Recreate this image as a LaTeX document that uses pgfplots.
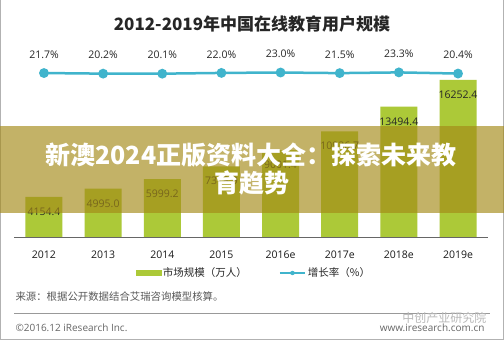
\documentclass[border=0pt]{standalone}
\usepackage{pgfplots}
\pgfplotsset{compat=1.18}
\usepackage{fontspec}
\setmainfont{Open Sans}
\newfontfamily\cjk{Noto Sans CJK SC}
\definecolor{barcol}{RGB}{172,201,56}
\definecolor{linecol}{RGB}{64,180,204}
\definecolor{bandcol}{RGB}{164,137,23}
\definecolor{lbl}{RGB}{38,38,38}
\begin{document}
\begin{tikzpicture}[x=1pt,y=1pt]
\useasboundingbox (0,0) rectangle (504,340);
\fill[white] (0,0) rectangle (504,340);
\draw[gray!60, line width=1pt] (0.5,340) -- (0.5,0.5) -- (503.5,0.5) -- (503.5,340);
\node[font=\cjk\bfseries\fontsize{17}{20}\selectfont, text=black!85] at (252,316) {2012-2019年中国在线教育用户规模};

\begin{axis}[
  at={(14.4pt,103pt)}, anchor=south west, scale only axis,
  width=473.2pt, height=192pt,
  xmin=-0.5, xmax=7.5, ymin=0, ymax=19872,
  axis x line*=bottom, axis y line=none,
  x axis line style={-, gray!80!black, line width=0.8pt},
  xtick={0,1,2,3,4,5,6,7},
  xticklabels={2012,2013,2014,2015,2016e,2017e,2018e,2019e},
  x tick style={draw=none},
  xticklabel style={font=\fontsize{10.5}{12}\selectfont, text=black!90, yshift=-6pt},
  ybar, bar width=37pt, clip=false,
  /pgf/number format/assume math mode=true,
  /pgf/number format/1000 sep={},
  /pgf/number format/fixed, /pgf/number format/fixed zerofill,
  /pgf/number format/precision=1,
  nodes near coords,
  every node near coord/.append style={anchor=north, yshift=-7.4pt, font=\fontsize{10.5}{12}\selectfont, text=lbl},
]
\addplot[fill=barcol, draw=none] coordinates {
 (0,4154.4) (1,4995.0) (2,5999.2) (3,7318.9) (4,9001.4) (5,10936.7) (6,13494.4) (7,16252.4)};
\end{axis}

\begin{axis}[
  at={(14.4pt,103pt)}, anchor=south west, scale only axis,
  width=473.2pt, height=192pt,
  xmin=-0.5, xmax=7.5, ymin=-388.2, ymax=91.8,
  hide axis, clip=false,
  /pgf/number format/assume math mode=true,
  /pgf/number format/fixed, /pgf/number format/fixed zerofill,
  /pgf/number format/precision=1,
  nodes near coords={\pgfmathprintnumber{\pgfplotspointmeta}\%},
  every node near coord/.append style={anchor=south, yshift=10pt, font=\fontsize{10.5}{12}\selectfont, text=lbl},
  legend style={at={(0.506,-0.1875)}, anchor=center, draw=none, fill=none,
    legend columns=2, font=\cjk\fontsize{10.5}{12}\selectfont, text=black!85,
    /tikz/every even column/.append style={column sep=30pt}},
]
\addlegendimage{legend image code/.code={\fill[barcol] (0pt,-2.5pt) rectangle (25pt,2.5pt);}}
\addlegendentry{市场规模（万人）}
\addplot[color=linecol, line width=2.5pt, mark=*, mark size=3.6pt, mark options={fill=linecol, draw=linecol}, forget plot] coordinates {
 (0,21.7) (1,20.2) (2,20.1) (3,22.0) (4,23.0) (5,21.5) (6,23.3) (7,20.4)};
\addlegendimage{legend image code/.code={\draw[linecol, line width=2pt] (0pt,0pt) -- (25pt,0pt); \fill[linecol] (12.5pt,0pt) circle (2pt);}}
\addlegendentry{增长率（\%）}
\end{axis}

\fill[bandcol, opacity=0.65] (0,127) rectangle (504,214);
\node[text=white, font=\cjk\bfseries\fontsize{25}{28}\selectfont] at (251,185) {新澳2024正版资料大全：探索未来教};
\node[text=white, font=\cjk\bfseries\fontsize{25}{28}\selectfont] at (252,157) {育趋势};

\node[anchor=west, text=gray!70!black, font=\cjk\fontsize{10.4}{12}\selectfont] at (12,43) {来源：根据公开数据结合艾瑞咨询模型核算。};
\draw[gray!80, line width=0.6pt] (14,27) -- (490,27);
\node[anchor=east, text=gray!55, font=\cjk\fontsize{12}{14}\selectfont] at (490,22) {中创产业研究院};
\node[anchor=west, text=gray!80!black, font=\fontsize{10}{12}\selectfont] at (12,12) {©2016.12 iResearch Inc.};
\node[anchor=east, text=gray!80!black, font=\fontsize{10}{12}\selectfont] at (488,12) {www.iresearch.com.cn};
\end{tikzpicture}
\end{document}
